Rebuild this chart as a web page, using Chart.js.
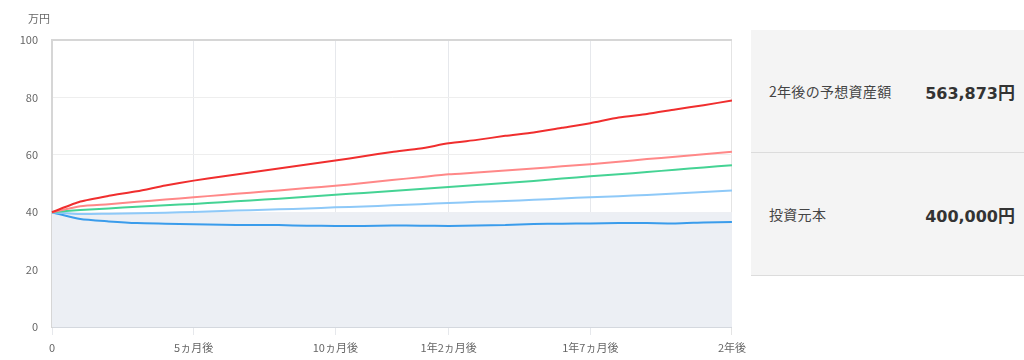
<!DOCTYPE html>
<html lang="ja">
<head>
<meta charset="utf-8">
<script src="https://cdn.jsdelivr.net/npm/chart.js@4"></script>
<style>
  body { margin: 0; background: #fff; font-family: "Noto Sans CJK JP", "Noto Sans", sans-serif; }
  #wrap { position: relative; width: 1024px; height: 360px; }
  #box { position: absolute; left: 0; top: 0; width: 752px; height: 360px; }
  #unit { position: absolute; left: 28px; top: 10px; font-size: 11px; color: #666; }
  #panel { position: absolute; left: 751px; top: 30px; width: 273px; background: #f4f4f4; }
  .row { height: 123px; border-bottom: 1px solid #dcdcdc; display: flex; align-items: center;
         justify-content: space-between; padding: 0 9px 0 18px; box-sizing: border-box; }
  .row .k { font-size: 14px; color: #444; letter-spacing: 0.3px; }
  .row .v { font-size: 16px; font-weight: bold; color: #333; font-family: "DejaVu Sans", "Noto Sans CJK JP", sans-serif; }
  .row .v .y { font-family: "Noto Sans CJK JP", sans-serif; font-size: 17px; }
</style>
</head>
<body>
<div id="wrap">
  <div id="box"><canvas id="sim"></canvas></div>
  <div id="unit">万円</div>
  <div id="panel">
    <div class="row"><span class="k">2年後の予想資産額</span><span class="v">563,873<span class="y">円</span></span></div>
    <div class="row"><span class="k">投資元本</span><span class="v">400,000<span class="y">円</span></span></div>
  </div>
</div>
<script>
// 月数 0..24、値は万円
const months = ['0','1ヵ月後','2ヵ月後','3ヵ月後','4ヵ月後','5ヵ月後','6ヵ月後','7ヵ月後','8ヵ月後','9ヵ月後','10ヵ月後','11ヵ月後','1年後',
  '1年1ヵ月後','1年2ヵ月後','1年3ヵ月後','1年4ヵ月後','1年5ヵ月後','1年6ヵ月後','1年7ヵ月後','1年8ヵ月後','1年9ヵ月後','1年10ヵ月後','1年11ヵ月後','2年後'];
const shownTicks = [0, 5, 10, 14, 19, 24];
const yTicks = [0, 20, 40, 60, 80, 100];

const high = [40, 43.7, 45.7, 47.3, 49.3, 51, 52.4, 53.8, 55.2, 56.6, 58, 59.5, 61, 62.2, 64, 65.2, 66.6, 67.8, 69.4, 71, 73, 74.2, 75.8, 77.3, 78.9];
const upper = [40, 42.1, 42.8, 43.6, 44.4, 45.2, 46, 46.8, 47.6, 48.4, 49.2, 50.2, 51.2, 52.2, 53.2, 53.8, 54.5, 55.2, 56, 56.7, 57.6, 58.5, 59.3, 60.2, 61.1];
const mid = [40, 40.8, 41.3, 41.9, 42.4, 42.9, 43.5, 44.1, 44.7, 45.4, 46.1, 46.7, 47.4, 48.1, 48.8, 49.5, 50.2, 50.9, 51.7, 52.5, 53.2, 54, 54.8, 55.6, 56.4];
const lower = [40, 39.4, 39.5, 39.6, 39.8, 40.1, 40.4, 40.7, 41, 41.3, 41.7, 42, 42.4, 42.8, 43.2, 43.6, 43.9, 44.3, 44.8, 45.2, 45.6, 46, 46.5, 47, 47.6];
const low = [40, 37.6, 36.8, 36.2, 36, 35.8, 35.6, 35.5, 35.5, 35.3, 35.2, 35.2, 35.4, 35.3, 35.2, 35.4, 35.5, 35.9, 36, 36.1, 36.2, 36.2, 36.1, 36.4, 36.6];
const principal = months.map(() => 40);

function line(data, color) {
  return { data, borderColor: color, borderWidth: 2, pointRadius: 0, tension: 0.2, fill: false, order: 1 };
}

new Chart(document.getElementById('sim'), {
  type: 'line',
  data: {
    labels: months,
    datasets: [
      line(high, '#f02e2e'),
      line(upper, '#ff8888'),
      line(mid, '#45d394'),
      line(lower, '#8ec9f8'),
      line(low, '#3a9ceb'),
      { data: principal, borderWidth: 0, pointRadius: 0, fill: 'origin', backgroundColor: '#eceff4', order: 2 }
    ]
  },
  options: {
    responsive: true,
    maintainAspectRatio: false,
    animation: false,
    layout: { padding: { top: 40, right: 13, left: 0, bottom: 0 } },
    plugins: { legend: { display: false }, tooltip: { enabled: false } },
    scales: {
      x: {
        offset: false,
        afterFit: (s) => { s.height = 33; },
        border: { color: '#d4d8de', width: 2 },
        grid: {
          tickLength: 8,
          color: (ctx) => {
            if (ctx.index === 24) return '#e4e4e4';
            return shownTicks.includes(ctx.index) ? '#e6e8ec' : 'rgba(0,0,0,0)';
          }
        },
        ticks: {
          autoSkip: false, maxRotation: 0, padding: 6, color: '#666',
          font: { size: 11, family: '"Noto Sans CJK JP", sans-serif' },
          callback: (v, i) => shownTicks.includes(i) ? months[i] : ''
        }
      },
      y: {
        min: 0, max: 100,
        afterFit: (s) => { s.width = 52; },
        afterBuildTicks: (s) => { s.ticks = yTicks.map(v => ({ value: v })); },
        border: { color: '#d6d6d6', width: 2 },
        grid: {
          drawTicks: false,
          color: (ctx) => ctx.tick && ctx.tick.value === 100 ? '#d6d6d6' : '#eeeeee',
          lineWidth: (ctx) => ctx.tick && ctx.tick.value === 100 ? 2 : 1
        },
        ticks: {
          padding: 14, color: '#666',
          font: { size: 11, family: '"Noto Sans CJK JP", sans-serif' }
        }
      }
    }
  }
});
</script>
</body>
</html>
